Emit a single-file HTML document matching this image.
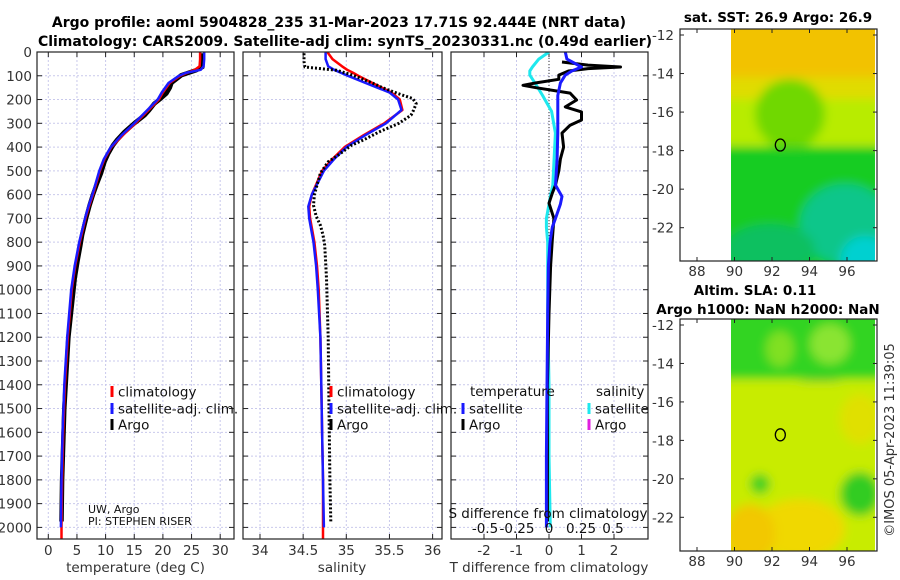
<!DOCTYPE html>
<html><head><meta charset="utf-8"><style>
body{margin:0;background:#fff}
svg{display:block;font-family:"DejaVu Sans","Liberation Sans",sans-serif}
</style></head><body>
<svg id="fig" width="900" height="580" viewBox="0 0 900 580" xmlns="http://www.w3.org/2000/svg">
<defs>
<filter id="blur4" x="-20%" y="-20%" width="140%" height="140%"><feGaussianBlur stdDeviation="5"/></filter>
<clipPath id="clipM1"><rect x="731" y="29" width="144" height="232"/></clipPath>
<clipPath id="clipM2"><rect x="731" y="319" width="144" height="232"/></clipPath>
<clipPath id="clipP1"><rect x="37" y="52" width="197" height="487"/></clipPath>
<clipPath id="clipP2"><rect x="243" y="52" width="199" height="487"/></clipPath>
<clipPath id="clipP3"><rect x="451" y="52" width="197" height="487"/></clipPath>
</defs>
<text x="339" y="27" text-anchor="middle" font-size="14" font-weight="bold">Argo profile: aoml 5904828_235 31-Mar-2023 17.71S 92.444E (NRT data)</text>
<text x="345" y="46" text-anchor="middle" font-size="14" font-weight="bold">Climatology: CARS2009. Satellite-adj clim: synTS_20230331.nc (0.49d earlier)</text>
<g id="p1"></g>
<g id="p2"></g>
<g id="p3"></g>
<g id="m1"></g>
<g id="m2"></g>
<text x="778" y="22" text-anchor="middle" font-size="13.5" font-weight="bold">sat. SST: 26.9 Argo: 26.9</text>
<text x="755" y="295" text-anchor="middle" font-size="13.5" font-weight="bold">Altim. SLA: 0.11</text>
<text x="768" y="314" text-anchor="middle" font-size="13.5" font-weight="bold">Argo h1000: NaN h2000: NaN</text>
<text transform="translate(894,440) rotate(-90)" text-anchor="middle" font-size="13" fill="#333">©IMOS 05-Apr-2023 11:39:05</text>
</svg>
<script>
// ---- data ----
const depthTicks=[0,100,200,300,400,500,600,700,800,900,1000,1100,1200,1300,1400,1500,1600,1700,1800,1900,2000];
const tempTicks=[0,5,10,15,20,25,30];
const salTicks=[34,34.5,35,35.5,36];
const salTickLabels=["34","34.5","35","35.5","36"];
const dTTicks=[-2,-1,0,1,2];
const dSTicks=[-0.5,-0.25,0,0.25,0.5];
const dSTickLabels=["-0.5","-0.25","0","0.25","0.5"];

const climDepth=[0,30,60,75,88,100,130,170,200,244,300,350,400,450,500,600,650,700,800,900,1000,1200,1400,1600,1800,2000,2050];
const climTemp=[26.5,26.5,26.4,25.6,24.2,23.0,21.2,20.0,19.3,17.5,15.2,13.0,11.0,9.8,9.0,7.8,7.1,6.5,5.5,4.7,4.1,3.4,2.9,2.6,2.4,2.3,2.3];
const climSal=[34.78,34.84,34.95,35.01,35.08,35.14,35.3,35.52,35.62,35.65,35.44,35.2,34.98,34.84,34.72,34.6,34.57,34.58,34.63,34.66,34.68,34.7,34.71,34.72,34.73,34.73,34.73];
const satDepth=[0,30,60,75,88,100,130,170,200,244,300,350,400,450,500,600,650,700,800,900,1000,1200,1400,1600,1800,2000];
const satTemp=[27.2,27.2,27.1,26.6,24.0,22.8,21.0,19.8,19.1,17.3,15.0,12.8,10.9,9.7,8.9,7.7,7.0,6.4,5.4,4.6,4.0,3.3,2.8,2.5,2.3,2.2];
const satSal=[34.76,34.76,34.79,34.86,34.94,35.02,35.22,35.5,35.6,35.64,35.46,35.22,35.0,34.86,34.74,34.6,34.56,34.57,34.62,34.65,34.67,34.7,34.71,34.72,34.73,34.74];
const argoDepth=[5,40,63,77,98,130,150,175,196,217,245,266,300,336,370,392,430,462,510,560,600,645,690,729,770,813,880,953,1200,1500,1800,1975];
const argoTemp=[26.8,26.8,26.9,25.8,23.2,21.5,21.2,20.6,19.6,18.5,17.6,16.8,15.0,13.3,12.0,11.3,10.4,9.8,9.2,8.4,7.8,7.2,6.7,6.3,5.9,5.6,5.1,4.6,3.5,2.8,2.4,2.3];
const argoSal=[34.51,34.51,34.52,34.89,35.08,35.3,35.42,35.6,35.77,35.81,35.78,35.75,35.61,35.38,35.2,35.06,34.92,34.79,34.7,34.66,34.63,34.62,34.65,34.7,34.73,34.75,34.76,34.77,34.79,34.8,34.81,34.82];

const dArgoDepth=[42,55,63,70,80,97,115,130,140,150,173,202,231,252,286,308,341,400,450,500,560,594,636,700,790,900,1100,1400,1700,1975];
const dArgoT=[0.4,1.2,2.2,1.2,0.6,0.3,0.3,-0.4,-0.8,-0.4,0.65,0.85,0.5,1.0,1.0,0.65,0.4,0.45,0.35,0.3,0.2,0.1,0.0,0.15,0.1,0.05,0.0,-0.05,-0.05,-0.05];
const dSatDepth=[0,30,63,80,97,130,183,250,341,450,560,608,640,700,737,800,900,1100,1400,1700,2000];
const dSatT=[0.5,0.55,1.0,0.7,0.5,0.35,0.27,0.27,0.27,0.25,0.2,0.4,0.35,0.2,0.1,0.03,-0.02,-0.04,-0.06,-0.08,-0.08];
const dSatS=[0.0,-0.08,-0.13,-0.15,-0.15,-0.11,-0.05,0.02,0.05,0.04,0.03,0.01,0.0,-0.02,-0.02,-0.01,-0.01,-0.01,0.0,0.0,0.01];

const lonTicks=[88,90,92,94,96];
const latTicks=[-12,-14,-16,-18,-20,-22];
const argoLon=92.444, argoLat=-17.71;

// ---- helpers ----
const NS="http://www.w3.org/2000/svg";
function mk(parent,tag,attrs,text){const e=document.createElementNS(NS,tag);for(const k in attrs)e.setAttribute(k,attrs[k]);if(text!==undefined)e.textContent=text;parent.appendChild(e);return e;}
const yD=d=>52+d*0.2377;
const xT=t=>48.3+t*5.73;
const xS=s=>260+(s-34)*86.3;
const xDT=t=>549+t*32.5;
const xDS=s=>549+s*128;
const Y0=52,Y1=539;

function panel(g,x0,x1,xticks,xf,labels,showY){
  const grid=mk(g,'g',{});
  
  
  xticks.forEach(t=>{const x=xf(t);mk(grid,'line',{x1:x,x2:x,y1:Y0,y2:Y1,stroke:'#c9c9ec','stroke-width':1,'stroke-dasharray':'2,2'});});
  depthTicks.forEach(d=>{const y=yD(d);mk(grid,'line',{x1:x0,x2:x1,y1:y,y2:y,stroke:'#c9c9ec','stroke-width':1,'stroke-dasharray':'2,2'});
    mk(g,'line',{x1:x0,x2:x0+5,y1:y,y2:y,stroke:'#222'});mk(g,'line',{x1:x1-5,x2:x1,y1:y,y2:y,stroke:'#222'});
    if(showY){const t=mk(g,'text',{x:x0-5,y:y+5,'text-anchor':'end','font-size':13.5,fill:'#333'},String(d));}
  });
  xticks.forEach((t,i)=>{const x=xf(t);mk(g,'line',{x1:x,x2:x,y1:Y1,y2:Y1-5,stroke:'#222'});mk(g,'line',{x1:x,x2:x,y1:Y0,y2:Y0+5,stroke:'#222'});
    if(labels){const e=mk(g,'text',{x:x,y:555,'text-anchor':'middle','font-size':13.5,fill:'#333'},labels[i]);}
  });
}
function frame(g,x0,x1){mk(g,'rect',{x:x0,y:Y0,width:x1-x0,height:Y1-Y0,fill:'none',stroke:'#222','stroke-width':1.2});}
function line(g,xs,ds,xf,color,w,dash,clip,name){
  const pts=xs.map((v,i)=>xf(v).toFixed(1)+','+yD(ds[i]).toFixed(1)).join(' ');
  const a={points:pts,fill:'none',stroke:color,'stroke-width':w,'stroke-linejoin':'round','clip-path':'url(#'+clip+')'};
  if(dash)a['stroke-dasharray']=dash;
  const p=mk(g,'polyline',a);
  
  
}
function legendItem(g,x,y,color,label,name){
  mk(g,'rect',{x:x-1.5,y:y-6,width:3,height:11,fill:color});
  const t=mk(g,'text',{x:x+6,y:y+4.5,'font-size':13.5,fill:'#111'},label);
  
  
}

// Panel 1
const p1=document.getElementById('p1');
panel(p1,37,234,tempTicks,xT,tempTicks.map(String),true);
line(p1,argoTemp,argoDepth,xT,'#000',4.5,null,'clipP1','argo-temperature-line');
line(p1,climTemp,climDepth,xT,'#f00',2.5,null,'clipP1','climatology-temperature-line');
line(p1,satTemp,satDepth,xT,'#1a1aff',2.5,null,'clipP1','satellite-temperature-line');
frame(p1,37,234);
mk(p1,'text',{x:135.5,y:572,'text-anchor':'middle','font-size':13.5,fill:'#333'},'temperature (deg C)');
legendItem(p1,112,392,'#f00','climatology','legend-climatology');
legendItem(p1,112,409,'#1a1aff','satellite-adj. clim.','legend-satellite-adj');
legendItem(p1,112,425,'#000','Argo','legend-argo');
mk(p1,'text',{x:88,y:513,'font-size':11,fill:'#111'},'UW, Argo');
mk(p1,'text',{x:88,y:525,'font-size':11,fill:'#111'},'PI: STEPHEN RISER');

// Panel 2
const p2=document.getElementById('p2');
panel(p2,243,442,salTicks,xS,salTickLabels,false);
line(p2,climSal,climDepth,xS,'#f00',2.5,null,'clipP2','climatology-salinity-line');
line(p2,satSal,satDepth,xS,'#1a1aff',2.5,null,'clipP2','satellite-salinity-line');
line(p2,argoSal,argoDepth,xS,'#000',3,'2,2','clipP2','argo-salinity-line');
frame(p2,243,442);
mk(p2,'text',{x:342,y:572,'text-anchor':'middle','font-size':13.5,fill:'#333'},'salinity');
legendItem(p2,331,392,'#f00','climatology','legend-climatology');
legendItem(p2,331,409,'#1a1aff','satellite-adj. clim.','legend-satellite-adj');
legendItem(p2,331,425,'#000','Argo','legend-argo');

// Panel 3
const p3=document.getElementById('p3');
panel(p3,451,648,dTTicks,xDT,dTTicks.map(String),false);
mk(p3,'line',{x1:549,x2:549,y1:Y0,y2:Y1,stroke:'#333','stroke-width':1,'stroke-dasharray':'1,2'});
line(p3,dSatS,dSatDepth,xDS,'#1ee8ee',3,null,'clipP3','satellite-salinity-diff-line');
line(p3,dArgoT,dArgoDepth,xDT,'#000',3,null,'clipP3','argo-temperature-diff-line');
line(p3,dSatT,dSatDepth,xDT,'#1a1aff',3,null,'clipP3','satellite-temperature-diff-line');
frame(p3,451,648);
dSTicks.forEach((s,i)=>{const t=mk(p3,'text',{x:xDS(s),y:533,'text-anchor':'middle','font-size':13.5,fill:'#111'},dSTickLabels[i]);});
mk(p3,'text',{x:548,y:518,'text-anchor':'middle','font-size':13.5,fill:'#111'},'S difference from climatology');
mk(p3,'text',{x:549,y:572,'text-anchor':'middle','font-size':13.5,fill:'#333'},'T difference from climatology');
mk(p3,'text',{x:470,y:396,'font-size':13.5,fill:'#111'},'temperature');
mk(p3,'text',{x:596,y:396,'font-size':13.5,fill:'#111'},'salinity');
legendItem(p3,463,409,'#1a1aff','satellite','legend-temp-satellite');
legendItem(p3,463,425,'#000','Argo','legend-temp-argo');
legendItem(p3,589,409,'#1ee8ee','satellite','legend-sal-satellite');
legendItem(p3,589,425,'#e020e0','Argo','legend-sal-argo');

// Maps
function map(g,top,lat12,lat22,clip,blobs,base){
  const xL=lon=>697+(lon-88)*18.75;
  const yL=lat=>lat12+(-12-lat)*(lat22-lat12)/10;
  const bottom=top+232;
  const b=mk(g,'g',{'clip-path':'url(#'+clip+')'});
  mk(b,'rect',{x:731,y:top,width:144,height:232,fill:base});
  const bl=mk(b,'g',{filter:'url(#blur4)'});
  blobs.forEach(o=>{
    if(o[5]==='r') mk(bl,'rect',{x:o[0],y:top+o[1],width:o[2],height:o[3],fill:o[4]});
    else mk(bl,'ellipse',{cx:o[0],cy:top+o[1],rx:o[2],ry:o[3],fill:o[4]});
  });
  mk(g,'rect',{x:680,y:top,width:197,height:232,fill:'none',stroke:'#222','stroke-width':1.2});
  lonTicks.forEach(l=>{const x=xL(l);mk(g,'line',{x1:x,x2:x,y1:bottom,y2:bottom-4,stroke:'#222'});mk(g,'line',{x1:x,x2:x,y1:top,y2:top+4,stroke:'#222'});
    const t=mk(g,'text',{x:x,y:bottom+15,'text-anchor':'middle','font-size':13.5,fill:'#333'},String(l));});
  latTicks.forEach(l=>{const y=yL(l);mk(g,'line',{x1:680,x2:684,y1:y,y2:y,stroke:'#222'});mk(g,'line',{x1:873,x2:877,y1:y,y2:y,stroke:'#222'});
    const t=mk(g,'text',{x:674,y:y+5,'text-anchor':'end','font-size':13.5,fill:'#333'},String(l));});
  const c=mk(g,'ellipse',{cx:xL(argoLon),cy:yL(argoLat),rx:5,ry:6,fill:'none',stroke:'#000','stroke-width':1.3});
  
  
}
map(document.getElementById('m1'),29,35,227.7,'clipM1',[
 [720,-10,170,60,'#f2c200','r'],[720,48,170,25,'#e0dc00','r'],
 [720,70,170,45,'#b8ec00','r'],[790,85,35,35,'#70d800'],
 [720,118,170,130,'#18cc20','r'],
 [845,195,45,40,'#10c68a'],[865,232,25,25,'#00d0d0'],[770,220,45,25,'#10c060']
],'#b8ec00');
map(document.getElementById('m2'),319,325,517.3,'clipM2',[
 [720,-10,170,70,'#30d420','r'],[780,30,14,18,'#80e020'],[830,25,20,20,'#8ae430'],
 [820,75,40,16,'#10b830'],[720,62,170,190,'#c8ec00','r'],[800,210,45,30,'#f0d800'],
 [750,215,25,30,'#f2c800'],[860,175,20,22,'#30cc20'],[760,165,10,10,'#40d020'],[860,100,20,25,'#e0e000']
],'#c8ec00');
</script>
</body></html>
